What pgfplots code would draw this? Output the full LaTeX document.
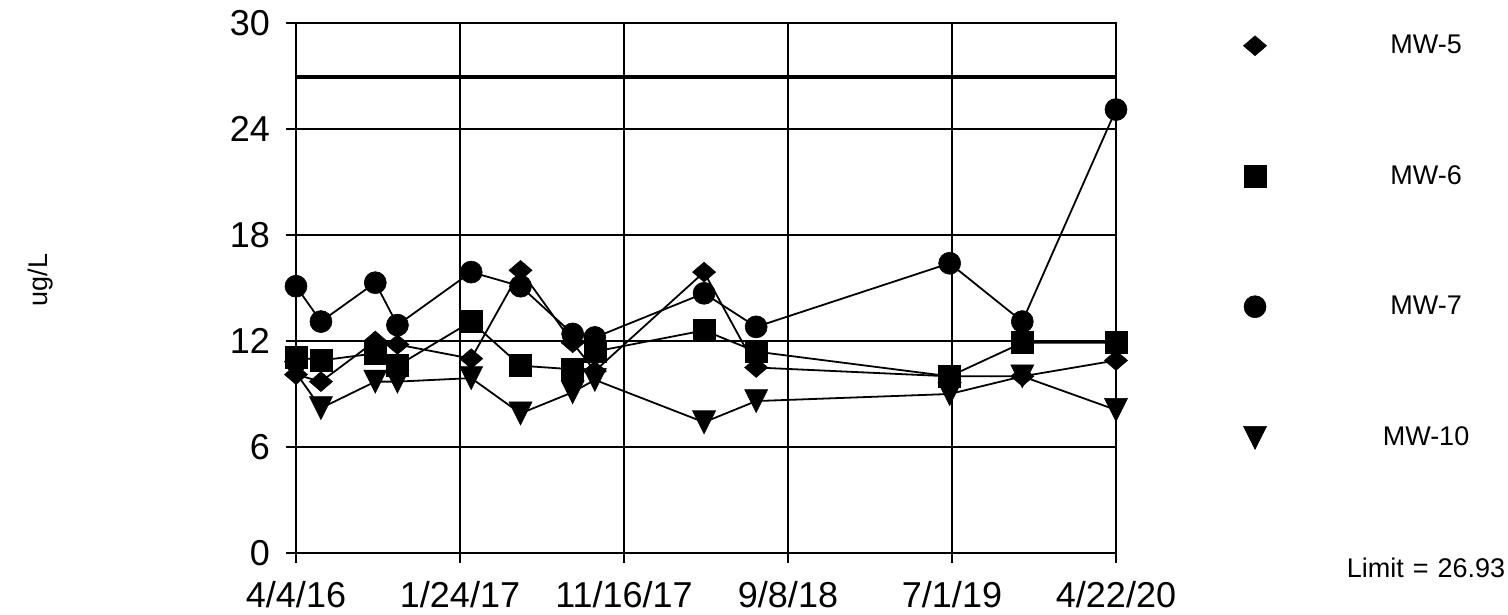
\documentclass[border=0pt]{standalone}
\usepackage{fontspec}
\setmainfont{Liberation Sans}
\usepackage{pgfplots}
\pgfplotsset{compat=1.18}
\pgfdeclareplotmark{tridown}{%
  \pgfpathmoveto{\pgfqpoint{0pt}{-\pgfplotmarksize}}%
  \pgfpathlineto{\pgfqpoint{\pgfplotmarksize}{\pgfplotmarksize}}%
  \pgfpathlineto{\pgfqpoint{-\pgfplotmarksize}{\pgfplotmarksize}}%
  \pgfpathclose\pgfusepathqfillstroke}
\pgfdeclareplotmark{dia}{%
  \pgfpathmoveto{\pgfqpoint{0pt}{0.86\pgfplotmarksize}}%
  \pgfpathlineto{\pgfqpoint{\pgfplotmarksize}{0pt}}%
  \pgfpathlineto{\pgfqpoint{0pt}{-0.86\pgfplotmarksize}}%
  \pgfpathlineto{\pgfqpoint{-\pgfplotmarksize}{0pt}}%
  \pgfpathclose\pgfusepathqfillstroke}
\begin{document}
\begin{tikzpicture}
\useasboundingbox (-148bp,-31bp) rectangle (606bp,276.5bp);
\begin{axis}[
  at={(0,0)}, anchor=south west,
  scale only axis, width=410bp, height=265bp,
  xmin=0, xmax=1479, ymin=0, ymax=30,
  xtick={0,295.8,591.6,887.4,1183.2,1479},
  xticklabels={4/4/16,1/24/17,11/16/17,9/8/18,7/1/19,4/22/20},
  ytick={0,6,12,18,24,30},
  grid=major, grid style={black, line width=0.7bp},
  axis line style={black, line width=0.7bp},
  tick style={black, line width=0.7bp},
  tick align=outside, major tick length=5bp,
  xtick pos=left, ytick pos=left,
  ticklabel style={font=\fontsize{18bp}{21bp}\selectfont},
  xticklabel style={yshift=-5.5bp},
  yticklabel style={xshift=-4.5bp},
  /pgf/number format/assume math mode=true,
  every axis y label/.style={at={(axis description cs:-0.312,0.515)}, rotate=90, anchor=center, font=\fontsize{13.5bp}{15bp}\selectfont},
  ylabel={ug/L},
  clip=false,
  every axis plot/.append style={black, line width=0.9bp},
  legend style={at={(axis description cs:1.1555,0.9774)}, anchor=north west,
    draw=none, fill=none, inner sep=0pt, outer sep=0pt,
    font=\fontsize{13.5bp}{15bp}\selectfont, row sep=54.3bp, column sep=39.75bp,
    nodes={inner sep=0pt, text width=80bp, align=center}},
  legend image code/.code={\draw[#1, line width=0.3bp] plot coordinates {(0bp,0bp)};},
]
\addplot[mark=dia, mark size=5.75bp, mark options={fill=black, line width=0.3bp}] coordinates {
(0,10.1)(45,9.7)(143,12.0)(183,11.8)(316,11.0)(405,16.0)(499,11.9)(539,10.3)(736,15.9)(830,10.5)(1179,10.0)(1310,10.0)(1479,10.9)};
\addlegendentry{MW-5}
\addplot[mark=square*, mark size=5.5bp, mark options={fill=black, line width=0.3bp}] coordinates {
(0,11.1)(45,10.9)(143,11.3)(183,10.6)(316,13.1)(405,10.6)(499,10.4)(539,11.4)(736,12.6)(830,11.4)(1179,10.0)(1310,11.9)(1479,11.9)};
\addlegendentry{MW-6}
\addplot[mark=*, mark size=5.5bp, mark options={fill=black, line width=0.3bp}] coordinates {
(0,15.1)(45,13.1)(143,15.3)(183,12.9)(316,15.9)(405,15.1)(499,12.4)(539,12.2)(736,14.7)(830,12.8)(1179,16.4)(1310,13.1)(1479,25.1)};
\addlegendentry{MW-7}
\addplot[mark=tridown, mark size=5.75bp, mark options={fill=black, line width=0.3bp}] coordinates {
(0,10.2)(45,8.2)(143,9.7)(183,9.7)(316,9.9)(405,7.9)(499,9.1)(539,9.8)(736,7.4)(830,8.6)(1179,9.0)(1310,10.0)(1479,8.1)};
\addlegendentry{MW-10}
\addplot[line width=1.8bp, mark=none, legend image code/.code={}] coordinates {(0,26.93)(1479,26.93)};
\addlegendentry{Limit = 26.93}
\end{axis}
\end{tikzpicture}
\end{document}
